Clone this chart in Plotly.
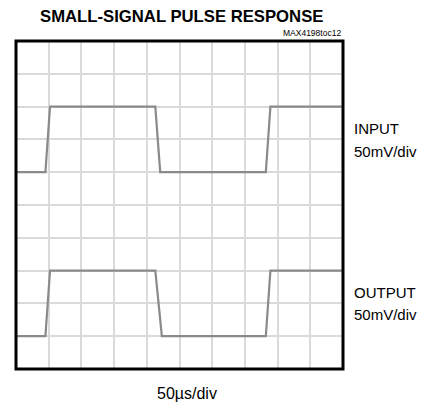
import plotly.graph_objects as go

# time in divisions (50us/div), voltage in divisions
input_t = [0, 0.90, 1.04, 4.26, 4.41, 7.64, 7.78, 10]
input_v = [6, 6, 8, 8, 6, 6, 8, 8]
output_t = [0, 0.90, 1.04, 4.26, 4.46, 7.64, 7.78, 10]
output_v = [1, 1, 3, 3, 1, 1, 3, 3]

fig = go.Figure()
fig.add_trace(go.Scatter(x=input_t, y=input_v, mode="lines",
                         line=dict(color="#8a8a8a", width=2.2), hoverinfo="skip"))
fig.add_trace(go.Scatter(x=output_t, y=output_v, mode="lines",
                         line=dict(color="#8a8a8a", width=2.2), hoverinfo="skip"))

axis_common = dict(range=[0, 10], dtick=1, tick0=0, showgrid=True,
                   gridcolor="#dadada", gridwidth=1.5, showticklabels=False,
                   zeroline=False, showline=False, ticks="", fixedrange=True)
fig.update_xaxes(**axis_common)
fig.update_yaxes(**axis_common)

fig.add_shape(type="rect", xref="paper", yref="paper", x0=0, x1=1, y0=0, y1=1,
              line=dict(color="black", width=3))

font_reg = "Liberation Sans, Arial, sans-serif"

fig.add_annotation(text="<b>SMALL-SIGNAL PULSE RESPONSE</b>", xref="paper", yref="paper",
                   x=0.505, y=1, yshift=25, xanchor="center", yanchor="middle",
                   borderpad=0,
                   showarrow=False, font=dict(family=font_reg, size=16.7, color="black"))
fig.add_annotation(text="MAX4198toc12", xref="paper", yref="paper",
                   x=1, y=1, yshift=8, xanchor="right", yanchor="middle",
                   showarrow=False, font=dict(family=font_reg, size=8.5, color="black"))

labels = [("INPUT", 0.7325), ("50mV/div", 0.6624), ("OUTPUT", 0.2324), ("50mV/div", 0.1653)]
for txt, yp in labels:
    fig.add_annotation(text=txt, xref="paper", yref="paper",
                       x=1, xshift=9, y=yp, xanchor="left", yanchor="middle", align="left",
                       showarrow=False, font=dict(family=font_reg, size=15, color="black"))

fig.add_annotation(text="50µs/div", xref="paper", yref="paper",
                   x=0.523, y=0, yshift=-24, xanchor="center", yanchor="middle",
                   showarrow=False, font=dict(family=font_reg, size=16, color="black"))

fig.update_layout(width=422, height=397, showlegend=False,
                  margin=dict(l=7.5, r=86.7, t=33.3, b=35.8, autoexpand=False),
                  plot_bgcolor="white", paper_bgcolor="white")

fig.write_html("out.html", config={"displayModeBar": False})
